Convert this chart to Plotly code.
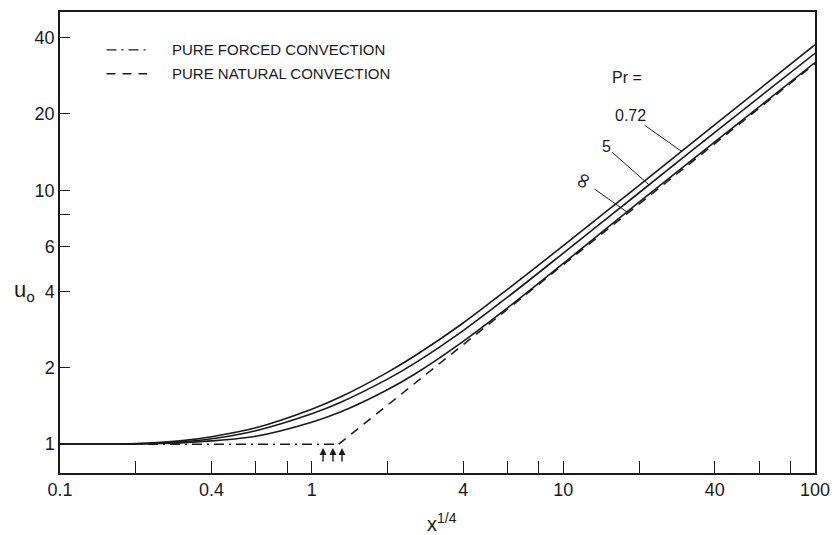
import numpy as np
import plotly.graph_objects as go

# ---- data ----
x_pts = [0.1, 0.15, 0.2, 0.3, 0.4, 0.6, 1.0, 1.3, 2.0, 2.6, 4.0, 6.0, 10, 20, 40, 100]
u_pr072 = [1, 1, 1.005, 1.03, 1.07, 1.16, 1.373, 1.533, 1.918, 2.244, 3.0, 4.07, 6.05, 10.45, 18.1, 37.4]
u_pr5 = [1, 1, 1.003, 1.02, 1.05, 1.13, 1.318, 1.46, 1.803, 2.099, 2.80, 3.79, 5.65, 9.77, 16.9, 34.6]
u_prinf = [1, 1, 1.002, 1.012, 1.03, 1.075, 1.221, 1.338, 1.638, 1.902, 2.54, 3.44, 5.15, 8.97, 15.5, 31.8]

forced_x = [0.1, 1.28]
forced_u = [1, 1]
natural_x = [1.28, 100]
natural_u = [1, 31.5]

arrow_x = [1.11, 1.215, 1.32]   # small arrows at intersection points
pr_labels = ["0.72", "5", "∞"]
pr_label_x = [29.5, 21.9, 17.9]  # where the leader lines touch the curves

x_tickvals = [0.1, 0.2, 0.4, 0.6, 0.8, 1, 2, 4, 6, 8, 10, 20, 40, 60, 80, 100]
x_ticktext = ["0.1", "", "0.4", "", "", "1", "", "4", "", "", "10", "", "40", "", "", "100"]
y_tickvals = [1, 2, 4, 6, 8, 10, 20, 40]
y_ticktext = ["1", "2", "4", "6", "", "10", "20", "40"]

FONT = "Liberation Sans"
INK = "#1a1a1a"

fig = go.Figure()
line_style = dict(color=INK, width=1.6, shape="spline", smoothing=0.8)
for u in (u_pr072, u_pr5, u_prinf):
    fig.add_trace(go.Scatter(x=x_pts, y=u, mode="lines", line=line_style,
                             showlegend=False, hoverinfo="skip"))
fig.add_trace(go.Scatter(x=forced_x, y=forced_u, mode="lines",
                         line=dict(color=INK, width=1.5, dash="10px,5px,2px,5px"),
                         showlegend=False, hoverinfo="skip"))
fig.add_trace(go.Scatter(x=natural_x, y=natural_u, mode="lines",
                         line=dict(color=INK, width=1.5, dash="9px,7px"),
                         showlegend=False, hoverinfo="skip"))

axis_common = dict(type="log", showgrid=False, zeroline=False, showline=True,
                   linecolor=INK, linewidth=1.5, mirror=True, ticks="inside",
                   tickcolor=INK, tickwidth=1.3, tickmode="array",
                   tickfont=dict(family=FONT, size=18, color=INK))
fig.update_xaxes(range=[-1, 2], tickvals=x_tickvals, ticktext=x_ticktext,
                 ticklen=12, **axis_common)
fig.update_yaxes(range=[np.log10(0.77), np.log10(50.3)], tickvals=y_tickvals,
                 ticktext=y_ticktext, ticklen=10, **axis_common)

ann = []
# leader-line labels for Pr
curves = [u_pr072, u_pr5, u_prinf]
offsets = [(-51, -36), (-43, -38), (-44, -31)]
for lab, xl, u, (ax, ay) in zip(pr_labels, pr_label_x, curves, offsets):
    yl = np.interp(np.log10(xl), np.log10(x_pts), np.log10(u))
    is_inf = lab == "∞"
    ann.append(dict(x=np.log10(xl), y=yl, xref="x", yref="y", text=lab,
                    showarrow=True, arrowhead=0, arrowwidth=1, arrowcolor=INK,
                    ax=ax, ay=ay, standoff=0,
                    textangle=-65 if is_inf else 0,
                    font=dict(family="DejaVu Sans" if is_inf else FONT,
                              size=22 if is_inf else 16, color=INK)))
ann.append(dict(x=(633 - 60) / 763, y=(473 - 76) / 463, xref="paper", yref="paper",
                xanchor="center", yanchor="middle", text="Pr =",
                showarrow=False, font=dict(family=FONT, size=16, color=INK)))
# arrows at intersections
for xa in arrow_x:
    ann.append(dict(x=np.log10(xa), y=np.log10(0.965), xref="x", yref="y", text="",
                    showarrow=True, arrowhead=2, arrowsize=1.0, arrowwidth=1.4,
                    arrowcolor=INK, ax=0, ay=15))
# axis titles
ann.append(dict(x=(446 - 60) / 763, y=(473 - 523) / 463, xref="paper", yref="paper",
                xanchor="center", yanchor="middle",
                text="x<sup>1/4</sup>", showarrow=False,
                font=dict(family=FONT, size=20, color=INK)))
ann.append(dict(x=(24 - 60) / 763, y=(473 - 290) / 463, xref="paper", yref="paper",
                xanchor="center", yanchor="middle",
                text="u<sub>o</sub>", showarrow=False,
                font=dict(family=FONT, size=22, color=INK)))
# legend (manual)
legend_items = [("PURE FORCED CONVECTION", "10px,5px,2px,5px", 48),
                ("PURE NATURAL CONVECTION", "9px,7px", 72)]
shapes = []
for txt, dash, ypx in legend_items:
    yp = (473 - ypx) / 463
    shapes.append(dict(type="line", xref="paper", yref="paper",
                       x0=(107 - 60) / 763, x1=(148 - 60) / 763, y0=yp, y1=yp,
                       line=dict(color=INK, width=1.4, dash=dash)))
    ann.append(dict(x=(171 - 60) / 763, y=yp, xref="paper", yref="paper",
                    xanchor="left", yanchor="middle", text=txt, showarrow=False,
                    font=dict(family=FONT, size=15, color=INK)))

fig.update_layout(width=840, height=535, margin=dict(l=60, r=17, t=10, b=62),
                  paper_bgcolor="white", plot_bgcolor="white",
                  annotations=ann, shapes=shapes, showlegend=False)
fig.write_html("out.html")
